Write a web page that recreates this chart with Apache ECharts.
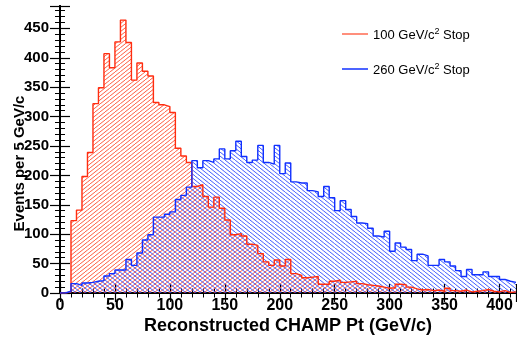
<!DOCTYPE html>
<html>
<head>
<meta charset="utf-8">
<script src="https://cdn.jsdelivr.net/npm/echarts/dist/echarts.min.js"></script>
<style>
  html, body { margin: 0; padding: 0; background: #fff; }
  #chart { width: 517px; height: 337px; }
</style>
</head>
<body>
<div id="chart"></div>
<script>
// Histogram binning (GeV/c per bin) and axis range
const BIN_WIDTH = 5;
const X_MAX = 415;
const Y_MAX = 488;

// Events per 5 GeV/c bin, starting at 0 GeV/c
const stop100Counts = [0, 2, 123, 141, 198, 239, 322, 349, 407, 383, 427, 464, 426, 362, 391, 377, 369, 324, 320, 317,
  307, 246, 233, 222, 181, 184, 164, 146, 163, 144, 124, 99, 101, 97, 83, 81, 67, 53, 47, 56,
  46, 57, 33, 30, 26, 27, 28, 15, 15, 20, 22, 18, 19, 20, 16, 14, 13, 12, 10, 8,
  9, 15, 14, 10, 7, 5, 6, 4, 5, 3, 8, 4, 3, 5, 2, 3, 4, 6, 3, 2, 4, 1, 2];
const stop260Counts = [0, 3, 16, 13, 17, 18, 20, 21, 29, 33, 39, 39, 57, 47, 68, 90, 99, 129, 129, 134,
  138, 159, 166, 180, 225, 213, 225, 222, 228, 245, 228, 242, 258, 232, 222, 226, 251, 222, 219, 251,
  203, 221, 189, 187, 187, 174, 172, 164, 181, 162, 140, 157, 142, 130, 119, 118, 110, 97, 95, 105,
  71, 85, 78, 74, 55, 66, 63, 47, 47, 57, 53, 46, 38, 28, 40, 31, 31, 36, 28, 28, 23, 20, 18];

const xTickLabels = [0, 50, 100, 150, 200, 250, 300, 350, 400];
const yTickLabels = [0, 50, 100, 150, 200, 250, 300, 350, 400, 450];

const seriesNames = ['100 GeV/c\u00b2 Stop', '260 GeV/c\u00b2 Stop'];
const RED = '#ff2d10';
const BLUE = '#1030ff';

// [bin low edge, count] pairs
function binned(counts) {
  return counts.map((v, i) => [i * BIN_WIDTH, v]);
}
// Step outline: one point per bin plus the closing right edge
function outline(counts) {
  const pts = binned(counts);
  pts.push([counts.length * BIN_WIDTH, counts[counts.length - 1]]);
  return pts;
}

// Diagonal hatch tile; dir > 0 rises to the right, dir < 0 falls
function hatch(color, dir) {
  const w = 10, h = 8, step = w / 2;
  const c = document.createElement('canvas');
  c.width = w; c.height = h;
  const g = c.getContext('2d');
  g.strokeStyle = color;
  g.lineWidth = 0.9;
  for (let o = -w; o <= w; o += step) {
    g.beginPath();
    if (dir > 0) { g.moveTo(o, h); g.lineTo(o + w, 0); }
    else { g.moveTo(o, 0); g.lineTo(o + w, h); }
    g.stroke();
  }
  return { type: 'pattern', image: c, repeat: 'repeat' };
}

function histFill(pattern) {
  return function (params, api) {
    const lo = api.value(0), v = api.value(1);
    if (!v) return null;
    const a = api.coord([lo, v]);
    const b = api.coord([lo + BIN_WIDTH, 0]);
    return {
      type: 'rect',
      shape: { x: a[0], y: a[1], width: b[0] - a[0], height: b[1] - a[1] },
      style: { fill: pattern },
      silent: true
    };
  };
}

const FONT = '"Liberation Sans", Arial, Helvetica, sans-serif';
const lineStyle = { color: '#000', width: 2 };

function axisBase(extra) {
  return Object.assign({
    type: 'value',
    axisLine: { show: true, lineStyle: lineStyle },
    splitLine: { show: false },
    axisLabel: { show: false },
    axisTick: { show: true, inside: true, length: 9, lineStyle: { color: '#000', width: 1.2 } }
  }, extra);
}

const chart = echarts.init(document.getElementById('chart'), null, { renderer: 'canvas' });

const grid = { left: 60, right: 1, top: 6, bottom: 44, containLabel: false, outerBoundsMode: 'none' };

chart.setOption({
  animation: false,
  backgroundColor: '#fff',
  grid: [grid, Object.assign({}, grid)],
  xAxis: [
    axisBase({
      gridIndex: 0, position: 'bottom', min: 0, max: X_MAX, interval: 50,
      name: 'Reconstructed CHAMP Pt (GeV/c)', nameLocation: 'middle', nameGap: 24, nameMoveOverlap: false,
      nameTextStyle: { fontFamily: FONT, fontWeight: 'bold', fontSize: 18, color: '#000' },
      axisLabel: {
        show: true, margin: 5, fontFamily: FONT, fontWeight: 'bold', fontSize: 16, color: '#000',
        formatter: v => (xTickLabels.indexOf(v) >= 0 ? String(v) : '')
      }
    }),
    axisBase({ gridIndex: 0, position: 'top', min: 0, max: X_MAX, interval: 50 }),
    axisBase({ gridIndex: 1, position: 'bottom', min: 0, max: X_MAX, interval: 10,
      axisLine: { show: false }, axisTick: { show: true, inside: true, length: 4.5, lineStyle: { color: '#000', width: 1 } } }),
    axisBase({ gridIndex: 1, position: 'top', min: 0, max: X_MAX, interval: 10,
      axisLine: { show: false }, axisTick: { show: true, inside: true, length: 4.5, lineStyle: { color: '#000', width: 1 } } })
  ],
  yAxis: [
    axisBase({
      gridIndex: 0, position: 'left', min: 0, max: Y_MAX, interval: 50,
      axisTick: { show: true, inside: true, length: 10, lineStyle: { color: '#000', width: 1.2 } },
      name: 'Events per 5 GeV/c', nameLocation: 'middle', nameGap: 33, nameMoveOverlap: false,
      nameTextStyle: { fontFamily: FONT, fontWeight: 'bold', fontSize: 15, color: '#000', padding: [0, 28, 0, 0] },
      axisLabel: {
        show: true, margin: 11, fontFamily: FONT, fontWeight: 'bold', fontSize: 15, color: '#000',
        formatter: v => (yTickLabels.indexOf(v) >= 0 ? String(v) : '')
      }
    }),
    axisBase({ gridIndex: 0, position: 'right', min: 0, max: Y_MAX, interval: 50,
      axisTick: { show: true, inside: true, length: 10, lineStyle: { color: '#000', width: 1.2 } } }),
    axisBase({ gridIndex: 1, position: 'left', min: 0, max: Y_MAX, interval: 10,
      axisLine: { show: false }, axisTick: { show: true, inside: true, length: 5, lineStyle: { color: '#000', width: 1 } } }),
    axisBase({ gridIndex: 1, position: 'right', min: 0, max: Y_MAX, interval: 10,
      axisLine: { show: false }, axisTick: { show: true, inside: true, length: 5, lineStyle: { color: '#000', width: 1 } } })
  ],
  legend: {
    orient: 'vertical',
    left: 337, top: 22,
    icon: 'rect',
    itemWidth: 26, itemHeight: 1.5,
    itemGap: 20,
    data: [
      { name: seriesNames[0], itemStyle: { color: '#ff6a50' } },
      { name: seriesNames[1], itemStyle: { color: '#1030ff' } }
    ],
    formatter: name => {
      const parts = name.split('\u00b2');
      return '{t|' + parts[0] + '}{s|2}{t|' + parts[1] + '}';
    },
    textStyle: {
      rich: {
        t: { fontFamily: FONT, fontSize: 13, color: '#000', lineHeight: 16, verticalAlign: 'bottom' },
        s: { fontFamily: FONT, fontSize: 9, color: '#000', lineHeight: 16, verticalAlign: 'bottom', padding: [0, 0, 6, 0] }
      }
    }
  },
  series: [
    {
      name: seriesNames[0], type: 'custom', xAxisIndex: 0, yAxisIndex: 0, clip: true, z: 1,
      renderItem: histFill(hatch('#ff4a2a', 1)),
      data: binned(stop100Counts)
    },
    {
      name: seriesNames[1], type: 'custom', xAxisIndex: 0, yAxisIndex: 0, clip: true, z: 1,
      renderItem: histFill(hatch('#2a48ff', -1)),
      data: binned(stop260Counts)
    },
    {
      name: seriesNames[0], type: 'line', step: 'end', xAxisIndex: 0, yAxisIndex: 0, z: 3,
      showSymbol: false, symbol: 'none', clip: true,
      lineStyle: { color: RED, width: 1.4 },
      data: outline(stop100Counts)
    },
    {
      name: seriesNames[1], type: 'line', step: 'end', xAxisIndex: 0, yAxisIndex: 0, z: 4,
      showSymbol: false, symbol: 'none', clip: true,
      lineStyle: { color: BLUE, width: 1.4 },
      data: outline(stop260Counts)
    }
  ]
});
</script>
</body>
</html>
